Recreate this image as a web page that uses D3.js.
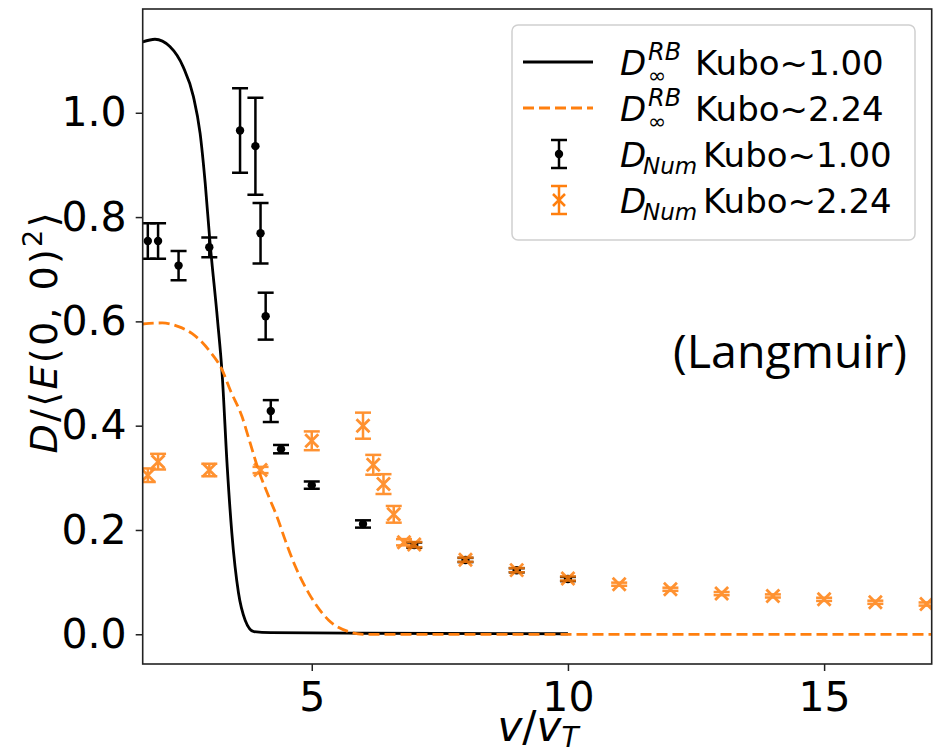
<!DOCTYPE html>
<html><head><meta charset="utf-8">
<script src="https://cdn.jsdelivr.net/npm/d3@7"></script>
<style>
html,body{margin:0;padding:0;background:#fff;}
svg{display:block;font-family:"DejaVu Sans",sans-serif;}
</style></head>
<body>
<svg id="chart" width="936" height="750"></svg>
<script>
// ---- data ----
const xTicks = [5, 10, 15];
const yTicks = [0.0, 0.2, 0.4, 0.6, 0.8, 1.0];

// D_inf^RB, Kubo ~ 1.00 (solid black)
const rb1X = [1.70,1.94,2.23,2.49,2.69,2.82,2.92,3.01,3.16,3.25,3.35,3.44,3.57,3.70,3.87,4.20,6.00,10.0];
const rb1Y = [1.136,1.141,1.127,1.088,1.031,0.961,0.865,0.756,0.603,0.500,0.321,0.194,0.079,0.027,0.005,0.003,0.002,0.001];

// D_inf^RB, Kubo ~ 2.24 (dashed orange)
const rb2X = [1.70,2.08,2.40,2.66,2.99,3.25,3.41,3.64,3.80,3.96,4.16,4.32,4.48,4.68,4.94,5.33,5.72,6.00,17.1];
const rb2Y = [0.595,0.597,0.590,0.577,0.545,0.507,0.468,0.417,0.366,0.315,0.264,0.226,0.181,0.130,0.079,0.027,0.005,0.000,0.000];

// D_Num, Kubo ~ 1.00 (black dots with error bars)
const num1X   = [1.8,2.0,2.4,3.0,3.6,3.9,4.0,4.1,4.2,4.4,5,6,7,8,9,10];
const num1Y   = [0.754,0.754,0.707,0.742,0.966,0.936,0.769,0.610,0.428,0.355,0.286,0.2115,0.171,0.1425,0.1227,0.106];
const num1Err = [0.034,0.034,0.028,0.019,0.081,0.093,0.058,0.045,0.021,0.008,0.007,0.007,0.005,0.004,0.004,0.004];

// D_Num, Kubo ~ 2.24 (orange x with error bars)
const num2X   = [1.8,2.0,3.0,4.0,5,6,6.2,6.4,6.6,6.8,7,8,9,10,11,12,13,14,15,16,17];
const num2Y   = [0.305,0.331,0.315,0.315,0.371,0.400,0.325,0.288,0.230,0.1765,0.172,0.143,0.123,0.107,0.096,0.0863,0.078,0.0735,0.067,0.0614,0.058];
const num2Err = [0.013,0.015,0.012,0.006,0.018,0.025,0.019,0.019,0.016,0.006,0.005,0.004,0.004,0.004,0.003,0.003,0.003,0.003,0.003,0.003,0.003];

const ORANGE = "#ff7f0e";

// ---- layout ----
const L = 142.7, R = 931.7, T = 9, B = 664;
const svg = d3.select("#chart");
const x = d3.scaleLinear([1.7, 17.1], [L, R]);
const y = d3.scaleLinear([-0.057, 1.199], [B, T]);

svg.append("defs").append("clipPath").attr("id","clip")
  .append("rect").attr("x",L).attr("y",T).attr("width",R-L).attr("height",B-T);

const plot = svg.append("g").attr("clip-path","url(#clip)");

const line = d3.line().x(d=>x(d[0])).y(d=>y(d[1])).curve(d3.curveMonotoneX);

plot.append("path").datum(d3.zip(rb1X, rb1Y)).attr("d", line)
  .attr("fill","none").attr("stroke","#000").attr("stroke-width",2.8);
plot.append("path").datum(d3.zip(rb2X, rb2Y)).attr("d", line)
  .attr("fill","none").attr("stroke",ORANGE).attr("stroke-width",2.8)
  .attr("stroke-dasharray","11,5");

function errorbars(g, xs, ys, es, color, marker, opacity){
  const pts = d3.zip(xs, ys, es);
  const grp = g.append("g").attr("stroke",color).attr("fill",color).attr("opacity",opacity);
  const cw = 8;
  pts.forEach(([xv,yv,ev])=>{
    const cx = x(xv), y1 = y(yv-ev), y2 = y(yv+ev), cy = y(yv);
    grp.append("line").attr("x1",cx).attr("x2",cx).attr("y1",y1).attr("y2",y2).attr("stroke-width",2.5);
    grp.append("line").attr("x1",cx-cw).attr("x2",cx+cw).attr("y1",y1).attr("y2",y1).attr("stroke-width",2.5);
    grp.append("line").attr("x1",cx-cw).attr("x2",cx+cw).attr("y1",y2).attr("y2",y2).attr("stroke-width",2.5);
    if(marker==="dot"){
      grp.append("circle").attr("cx",cx).attr("cy",cy).attr("r",4.2).attr("stroke","none");
    } else {
      const s = 6.5;
      grp.append("path").attr("d",`M${cx-s},${cy-s}L${cx+s},${cy+s}M${cx-s},${cy+s}L${cx+s},${cy-s}`)
        .attr("stroke-width",2.8).attr("fill","none");
    }
  });
}
errorbars(plot, num1X, num1Y, num1Err, "#000", "dot", 1);
errorbars(plot, num2X, num2Y, num2Err, ORANGE, "x", 0.85);

// ---- axes ----
const xAxis = svg.append("g").attr("transform",`translate(0,${B})`)
  .call(d3.axisBottom(x).tickValues(xTicks).tickSize(7).tickPadding(11).tickFormat(d3.format("d")));
const yAxis = svg.append("g").attr("transform",`translate(${L},0)`)
  .call(d3.axisLeft(y).tickValues(yTicks).tickSize(7).tickPadding(9).tickFormat(d3.format(".1f")));
[xAxis,yAxis].forEach(a=>{
  a.select(".domain").remove();
  a.selectAll(".tick line").attr("stroke","#222").attr("stroke-width",1.5);
  a.selectAll(".tick text").attr("font-family","DejaVu Sans").attr("font-size",41).attr("fill","#000");
});

// frame
svg.append("rect").attr("x",L).attr("y",T).attr("width",R-L).attr("height",B-T)
  .attr("fill","none").attr("stroke","#222").attr("stroke-width",1.6);

// ---- axis labels ----
const xl = svg.append("text").attr("x",538).attr("y",741).attr("text-anchor","middle")
  .attr("font-size",42).attr("fill","#000");
xl.append("tspan").attr("font-style","italic").text("v");
xl.append("tspan").text("/");
xl.append("tspan").attr("font-style","italic").text("v");
xl.append("tspan").attr("font-style","italic").attr("font-size",28).attr("dy",6).text("T");

const yl = svg.append("text").attr("transform","translate(57,333) rotate(-90)")
  .attr("text-anchor","middle").attr("font-size",38).attr("fill","#000")
  .attr("textLength",241).attr("lengthAdjust","spacing");
yl.append("tspan").attr("font-style","italic").text("D");
yl.append("tspan").text("/\u27E8");
yl.append("tspan").attr("font-style","italic").text("E");
yl.append("tspan").text("(0, 0)");
yl.append("tspan").attr("font-size",27).attr("dy",-15).text("2");
yl.append("tspan").attr("dy",15).text("\u27E9");

// annotation
svg.append("text").attr("x",673).attr("y",368).attr("font-family","'Open Sans',sans-serif")
  .attr("font-size",46).attr("textLength",234).attr("lengthAdjust","spacingAndGlyphs")
  .attr("fill","#000").text("(Langmuir)");

// ---- legend ----
const lg = svg.append("g");
lg.append("rect").attr("x",512).attr("y",25).attr("width",403).attr("height",215).attr("rx",6)
  .attr("fill","#fff").attr("fill-opacity",0.85).attr("stroke","#d0d0d0").attr("stroke-width",1.5);

const rows = [
  {base:75,  kind:"line",  color:"#000", sub:"\u221E", sup:"RB", label:"Kubo~1.00", kx:695},
  {base:121, kind:"dash",  color:ORANGE, sub:"\u221E", sup:"RB", label:"Kubo~2.24", kx:695},
  {base:167, kind:"dot",   color:"#000", sub:"Num",   sup:null, label:"Kubo~1.00", kx:703},
  {base:213, kind:"x",     color:ORANGE, sub:"Num",   sup:null, label:"Kubo~2.24", kx:703}
];
rows.forEach(r=>{
  const cy = r.base - 13;
  if(r.kind==="line"||r.kind==="dash"){
    const l = lg.append("line").attr("x1",523).attr("x2",593).attr("y1",cy).attr("y2",cy)
      .attr("stroke",r.color).attr("stroke-width",2.8);
    if(r.kind==="dash") l.attr("stroke-dasharray","11,5");
  } else {
    const cx = 559, h = 14, cw = 8;
    const g = lg.append("g").attr("stroke",r.color).attr("fill",r.color).attr("stroke-width",2.5);
    g.append("line").attr("x1",cx).attr("x2",cx).attr("y1",cy-h).attr("y2",cy+h);
    g.append("line").attr("x1",cx-cw).attr("x2",cx+cw).attr("y1",cy-h).attr("y2",cy-h);
    g.append("line").attr("x1",cx-cw).attr("x2",cx+cw).attr("y1",cy+h).attr("y2",cy+h);
    if(r.kind==="dot") g.append("circle").attr("cx",cx).attr("cy",cy).attr("r",4.2).attr("stroke","none");
    else g.append("path").attr("d",`M${cx-6},${cy-6}L${cx+6},${cy+6}M${cx-6},${cy+6}L${cx+6},${cy-6}`).attr("fill","none");
  }
  lg.append("text").attr("x",620).attr("y",r.base).attr("font-size",34).attr("font-style","italic")
    .attr("fill","#000").text("D");
  if(r.sup){
    lg.append("text").attr("x",648).attr("y",r.base-15).attr("font-size",24).attr("font-style","italic")
      .attr("fill","#000").text(r.sup);
    lg.append("text").attr("x",648).attr("y",r.base+8).attr("font-size",22)
      .attr("fill","#000").text(r.sub);
  } else {
    lg.append("text").attr("x",643).attr("y",r.base+7).attr("font-size",23).attr("font-style","italic")
      .attr("fill","#000").text(r.sub);
  }
  lg.append("text").attr("x",r.kx).attr("y",r.base).attr("font-size",34).attr("fill","#000").text(r.label);
});
</script>
</body></html>
